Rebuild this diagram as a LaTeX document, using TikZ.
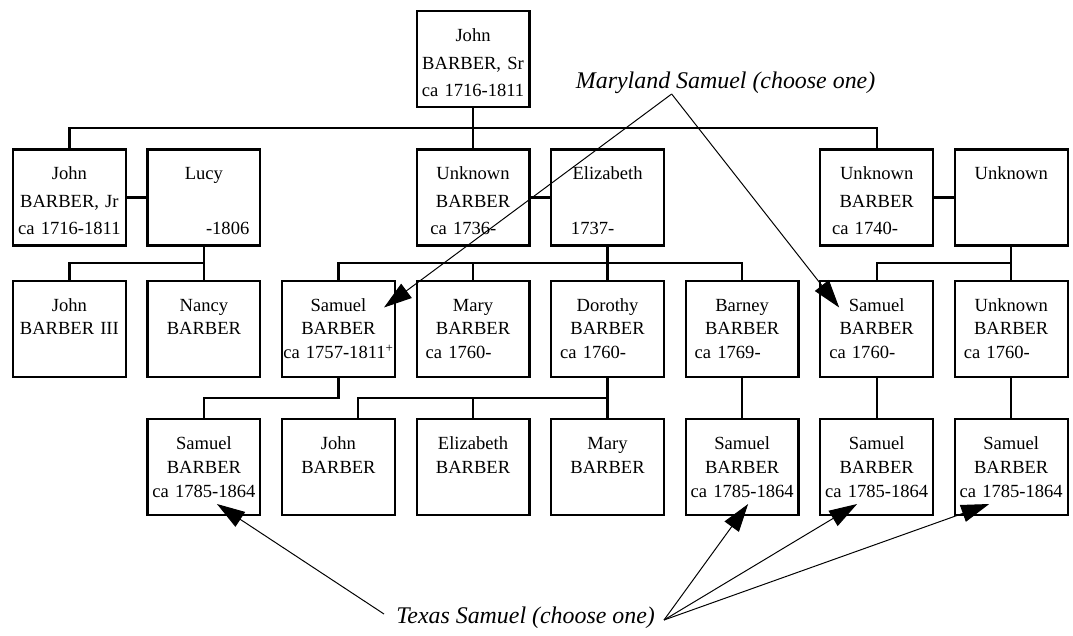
\documentclass[tikz,border=0pt]{standalone}
\usepackage{fontspec}
\setmainfont{Liberation Serif}
\usetikzlibrary{positioning,calc,arrows.meta}
\newcommand{\lft}[2][0.2cm]{\makebox[\linewidth][l]{\hspace*{#1}#2}}
\newcommand{\rgt}[2][0.2cm]{\makebox[\linewidth][r]{#2\hspace*{#1}}}

\begin{document}
\begin{tikzpicture}[
            node distance=1cm and 0.4875cm,
            BOX/.style={rectangle, draw=black, line width=1.6pt, inner xsep=0.025cm, inner ysep=0pt, text width=2.77cm, align=center, text height=0.76cm, text depth=1.64cm},
            OLD/.style={BOX, font=\fontsize{13.2}{19.6}\selectfont},
            YOUNG/.style={BOX, font=\fontsize{13.2}{17}\selectfont},
            LINK/.style={line width=1.6pt},
            POINT/.style={line width=0.7pt, -{Triangle[length=0.7cm,width=0.44cm]}},
            NOTE/.style={inner sep=0pt, font=\fontsize{17}{20}\selectfont\itshape},
        ]
        \useasboundingbox (0,0) rectangle (26.825,-15.875);

        \node[OLD, anchor=north west] (JohnSr) at (10.3875,-0.25) {John\\BARBER, Sr\\ca 1716-1811};
        \node[OLD]    (UnknownB1)   [below=of JohnSr] {Unknown\\BARBER\\\lft[0.32cm]{ca 1736-}};
        \node[OLD]    (Elizabeth)   [right=of UnknownB1] {Elizabeth\\ \strut\\\lft[0.47cm]{1737-}};

        \node[YOUNG]  (Mary_A)      [below=0.825cm of UnknownB1] {Mary\\BARBER\\\lft{ca 1760-}};
        \node[YOUNG]  (Samuel_A)    [left=of Mary_A] {Samuel\\BARBER\\ca 1757-1811\textsuperscript{+}};
        \node[YOUNG]  (Nancy)       [left=of Samuel_A] {Nancy\\BARBER};
        \node[YOUNG]  (JohnIII)     [left=of Nancy] {John\\BARBER III};
        \node[YOUNG]  (Dorothy)     [right=of Mary_A] {Dorothy\\BARBER\\\lft{ca 1760-}};
        \node[YOUNG]  (Barney)      [right=of Dorothy] {Barney\\BARBER\\\lft{ca 1769-}};
        \node[YOUNG]  (Samuel_B)    [right=of Barney] {Samuel\\BARBER\\\lft{ca 1760-}};
        \node[YOUNG]  (Unknown_C)   [right=of Samuel_B] {Unknown\\BARBER\\\lft{ca 1760-}};

        \node[OLD]    (Lucy)        [above=0.825cm of Nancy] {Lucy\\ \strut\\\rgt[0.25cm]{-1806}};
        \node[OLD]    (JohnJr)      [left=of Lucy] {John\\BARBER, Jr\\ca 1716-1811};
        \node[OLD]    (UnknownB2)   [above=0.825cm of Samuel_B] {Unknown\\BARBER\\\lft[0.27cm]{ca 1740-}};
        \node[OLD]    (Unknown)     [right=of UnknownB2] {Unknown};

        \node[YOUNG]  (Samuel_1)    [below=of Nancy] {Samuel\\BARBER\\ca 1785-1864};
        \node[YOUNG]  (John_1)      [right=of Samuel_1] {John\\BARBER};
        \node[YOUNG]  (Elizabeth_1) [right=of John_1] {Elizabeth\\BARBER};
        \node[YOUNG]  (Mary_1)      [right=of Elizabeth_1] {Mary\\BARBER};
        \node[YOUNG]  (Samuel_2)    [right=of Mary_1] {Samuel\\BARBER\\ca 1785-1864};
        \node[YOUNG]  (Samuel_3)    [right=of Samuel_2] {Samuel\\BARBER\\ca 1785-1864};
        \node[YOUNG]  (Samuel_4)    [right=of Samuel_3] {Samuel\\BARBER\\ca 1785-1864};

        \coordinate (Bus_A) at ($(JohnSr.south)!0.5!(UnknownB1.north)$);
        \coordinate (Bus_B) at ($(Lucy.south)!0.5!(Nancy.north)$);
        \coordinate (Bus_C) at ($(Samuel_A.south)!0.5!(Samuel_1.north)$);

        \draw[LINK] (JohnSr.south) -- (UnknownB1.north);
        \draw[LINK] (JohnJr.north) |- (Bus_A) -| (UnknownB2.north);
        \draw[LINK] (JohnJr.east) -- (Lucy.west);
        \draw[LINK] (UnknownB1.east) -- (Elizabeth.west);
        \draw[LINK] (UnknownB2.east) -- (Unknown.west);

        \draw[LINK] (Lucy.south) -- (Nancy.north);
        \draw[LINK] (JohnIII.north) |- (Lucy.south |- Bus_B);
        \draw[LINK] (Elizabeth.south) -- (Dorothy.north);
        \draw[LINK] (Samuel_A.north) |- (Elizabeth.south |- Bus_B) -| (Barney.north);
        \draw[LINK] (Mary_A.north) -- (Mary_A.north |- Bus_B);
        \draw[LINK] (Unknown.south) -- (Unknown_C.north);
        \draw[LINK] (Samuel_B.north) |- (Unknown.south |- Bus_B);

        \draw[LINK] (Samuel_1.north) |- (Samuel_A.south |- Bus_C) -- (Samuel_A.south);
        \draw[LINK] (Dorothy.south) -- (Mary_1.north);
        \draw[LINK] ([xshift=0.49cm]John_1.north) |- (Dorothy.south |- Bus_C);
        \draw[LINK] (Elizabeth_1.north) -- (Elizabeth_1.north |- Bus_C);
        \draw[LINK] (Barney.south) -- (Samuel_2.north);
        \draw[LINK] (Samuel_B.south) -- (Samuel_3.north);
        \draw[LINK] (Unknown_C.south) -- (Samuel_4.north);

        \node[NOTE] (Maryland) at (18.14,-2.075) {Maryland Samuel (choose one)};
        \coordinate (Maryland_Foot) at ([xshift=2.4cm,yshift=-0.275cm]Maryland.west);
        \node[NOTE] (Texas) at (13.14,-15.45) {Texas Samuel (choose one)};
        \coordinate (Texas_Left) at ([xshift=-0.3cm,yshift=0.1cm]Texas.west);
        \coordinate (Texas_Right) at ([xshift=0.22cm,yshift=-0.05cm]Texas.east);

        \draw[POINT] (Maryland_Foot) -- ([xshift=-0.3cm,yshift=-0.7cm]Samuel_A.north east);
        \draw[POINT] (Maryland_Foot) -- ([xshift=0.5cm,yshift=-0.7cm]Samuel_B.north west);
        \draw[POINT] (Texas_Left) -- ([xshift=0.325cm,yshift=0.3cm]Samuel_1.south);
        \draw[POINT] (Texas_Right) -- ([xshift=0.15cm,yshift=0.3cm]Samuel_2.south);
        \draw[POINT] (Texas_Right) -- ([xshift=-0.49cm,yshift=0.3cm]Samuel_3.south);
        \draw[POINT] (Texas_Right) -- ([xshift=-0.55cm,yshift=0.3cm]Samuel_4.south);

    \end{tikzpicture}
\end{document}
